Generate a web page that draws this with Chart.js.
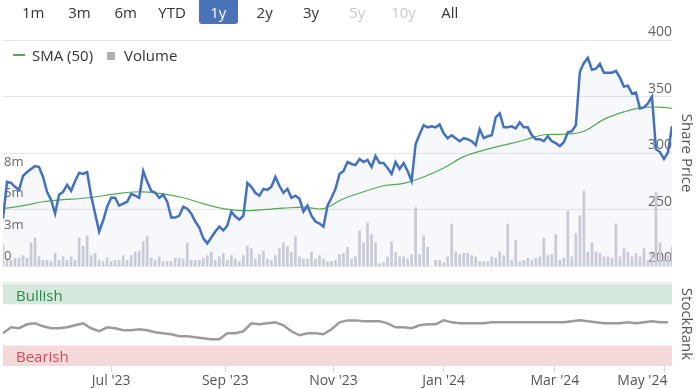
<!DOCTYPE html>
<html>
<head>
<meta charset="utf-8">
<title>Share Price / StockRank</title>
<script src="https://cdn.jsdelivr.net/npm/chart.js@4.4.1/dist/chart.umd.min.js"></script>
<style>
  body { margin: 0; background: #fff; font-family: 'Open Sans', sans-serif; }
  #page { position: relative; width: 696px; height: 389px; overflow: hidden; }
  .pane { position: absolute; left: 0; width: 696px; }
  #pricePane { top: 0; height: 275px; }
  #rankPane { top: 275px; height: 114px; }
  #ranges { position: absolute; left: 10px; top: 0; display: flex; z-index: 2; }
  .btn { width: 46.3px; height: 24px; line-height: 24px; text-align: center; font-size: 15px; color: #333; }
  .btn.off { color: #c9c9c9; }
  .btn.on span { display: inline-block; width: 39px; background: #4a72b8; color: #fff; border-radius: 0 0 3px 3px; }
  #legend { position: absolute; left: 13px; top: 45px; height: 20px; display: flex; align-items: center; font-size: 15px; color: #333; z-index: 2; }
  #legend .ln { width: 12px; height: 2px; background: #52ad4c; margin-right: 7px; }
  #legend .sq { width: 8px; height: 8px; background: #aeb0b8; margin: 2px 9px 0 14px; }
</style>
</head>
<body>
<div id="page">
  <div id="ranges"></div>
  <div id="legend"><i class="ln"></i><span>SMA (50)</span><i class="sq"></i><span>Volume</span></div>
  <div class="pane" id="pricePane"><canvas id="priceChart"></canvas></div>
  <div class="pane" id="rankPane"><canvas id="rankChart"></canvas></div>
</div>
<script>
// range selector
const rangeButtons = ['1m', '3m', '6m', 'YTD', '1y', '2y', '3y', '5y', '10y', 'All'];
const rangeSelected = '1y';
const rangeDisabled = ['5y', '10y'];

// share price, one sample every ~2 trading days (May '23 -> May '24)
const priceValues = [
  242.1, 274.6, 273.7, 270.2, 267.5, 279.8, 283.3, 286.0, 288.6, 287.7,
  278.9, 265.8, 258.8, 246.5, 263.2, 265.8, 271.9, 266.7, 275.4, 282.5,
  281.6, 283.3, 262.3, 246.5, 230.7, 240.4, 252.6, 260.5, 260.5, 253.5,
  255.3, 257.0, 264.0, 262.3, 260.5, 284.2, 274.6, 266.7, 264.9, 260.5,
  263.2, 257.0, 243.0, 243.0, 244.7, 252.6, 250.9, 246.5, 239.5, 234.2,
  224.6, 220.2, 225.4, 230.7, 235.1, 231.6, 236.0, 248.2, 243.9, 241.2,
  244.7, 273.7, 270.2, 264.9, 262.3, 268.4, 267.5, 270.2, 278.9, 271.1,
  264.9, 268.4, 260.5, 262.3, 259.6, 248.2, 253.5, 244.7, 239.5, 237.7,
  235.1, 253.5, 260.5, 268.4, 281.6, 284.2, 292.1, 290.4, 289.5, 294.7,
  292.1, 293.9, 287.7, 297.4, 291.2, 291.2, 286.8, 281.6, 292.1, 286.0,
  291.2, 284.2, 275.4, 307.9, 316.7, 324.6, 322.8, 323.7, 322.8, 325.4,
  317.5, 313.2, 315.8, 313.2, 310.5, 313.2, 312.3, 310.5, 307.0, 321.1,
  313.2, 314.9, 315.8, 331.6, 335.1, 322.8, 322.8, 323.7, 321.9, 327.2,
  322.8, 322.8, 315.8, 312.3, 312.3, 310.5, 314.9, 310.5, 308.8, 306.1,
  309.6, 318.4, 319.3, 324.6, 371.9, 379.8, 384.2, 373.7, 374.6, 378.9,
  371.1, 371.1, 371.1, 372.8, 366.7, 358.8, 359.6, 352.6, 353.5, 339.5,
  340.4, 343.9, 350.0, 303.5, 300.9, 294.7, 300.9, 323.7
];

// 50 day moving average, at every 5th sample
const smaIndex = [0, 5, 10, 15, 20, 25, 30, 35, 40, 45, 50, 55, 60, 65, 70, 75, 80, 85,
  90, 95, 100, 105, 110, 115, 120, 125, 130, 135, 140, 145, 150, 155, 160, 165, 167];
const smaValues = [250.9, 253.5, 257.0, 258.8, 260.1, 262.3, 264.9, 265.8, 264.0, 260.5,
  255.3, 250.9, 249.1, 250.0, 251.3, 252.2, 250.9, 259.6, 265.8, 271.1,
  273.2, 278.9, 286.8, 296.9, 302.6, 307.0, 311.4, 316.2, 316.7, 319.3,
  329.8, 336.4, 340.4, 340.4, 339.5];

// volume in millions, same sampling as price
const volumeValues = [
  1.8, 0.5, 0.5, 0.7, 0.7, 0.9, 0.7, 2.0, 2.4, 0.8,
  0.5, 0.5, 0.4, 1.1, 0.5, 0.8, 0.5, 0.8, 0.5, 2.4,
  1.7, 2.6, 0.9, 1.1, 0.5, 0.4, 0.7, 0.4, 0.5, 0.5,
  0.9, 0.5, 0.9, 1.2, 1.3, 2.1, 2.5, 0.7, 0.5, 0.8,
  0.4, 0.4, 0.4, 0.7, 0.7, 0.6, 2.0, 0.5, 0.5, 0.5,
  0.7, 0.9, 1.2, 0.5, 0.8, 1.1, 0.5, 0.9, 0.6, 0.4,
  0.9, 1.7, 1.5, 0.6, 1.0, 1.3, 0.6, 0.5, 0.9, 1.5,
  2.0, 1.7, 1.2, 2.5, 0.8, 0.6, 0.6, 1.2, 0.6, 0.9,
  0.6, 0.4, 0.4, 0.5, 1.0, 1.1, 1.6, 0.6, 0.8, 3.0,
  2.0, 3.7, 2.7, 2.0, 0.2, 0.3, 0.8, 2.1, 1.2, 0.8,
  0.8, 0.6, 1.0, 5.0, 1.0, 2.6, 1.6, 0.0, 0.5, 0.5,
  0.3, 0.8, 3.6, 1.2, 1.0, 1.1, 1.1, 0.9, 0.8, 0.4,
  0.4, 0.4, 0.8, 0.7, 1.2, 0.9, 3.6, 0.5, 2.2, 0.4,
  0.5, 0.7, 0.5, 0.7, 0.8, 2.4, 0.9, 1.0, 2.7, 0.5,
  0.7, 4.7, 0.8, 2.8, 4.3, 6.4, 1.2, 2.0, 1.2, 1.1,
  0.8, 0.8, 0.7, 3.6, 0.8, 1.5, 1.2, 0.8, 1.1, 0.8,
  1.5, 0.5, 1.1, 6.3, 2.0, 0.7, 0.9, 1.6
];

// StockRank, every 2nd sample
const rankValues = [
  39.8, 47.0, 45.8, 50.6, 51.8, 48.2, 45.8, 45.8, 47.0, 49.4,
  51.8, 45.8, 42.2, 47.0, 45.8, 43.4, 43.4, 44.6, 43.4, 41.0,
  39.8, 38.6, 36.1, 36.1, 34.9, 33.7, 32.5, 32.5, 39.8, 39.8,
  42.2, 51.8, 50.6, 51.8, 53.0, 49.4, 42.2, 37.3, 39.8, 39.8,
  38.6, 44.6, 53.0, 55.4, 55.4, 54.2, 54.2, 54.2, 51.8, 47.0,
  47.0, 45.8, 49.4, 50.6, 50.6, 55.4, 53.0, 51.8, 51.8, 51.8,
  51.8, 53.0, 53.0, 53.0, 53.0, 53.0, 53.0, 53.0, 53.0, 53.0,
  53.0, 54.2, 55.4, 54.2, 53.0, 51.8, 51.8, 51.8, 53.0, 51.8,
  53.0, 54.2, 53.0, 53.0
];

const bullishBand = [75, 100];
const bearishBand = [0, 25];
const bandLabels = ['Bullish', 'Bearish'];

// month starts on the sample axis; the last label is pulled in to fit
const monthTicks = [27, 55.5, 82.5, 110, 137.75, 165.25];
const monthLabelPos = [27, 55.5, 82.5, 110, 137.75, 159.6];
const monthLabels = ["Jul '23", "Sep '23", "Nov '23", "Jan '24", "Mar '24", "May '24"];
const priceTicks = [200, 250, 300, 350, 400];
const volumeTicks = [0, 8 / 3, 16 / 3, 8];

Chart.defaults.font.family = "'Open Sans', sans-serif";

const lastIdx = priceValues.length - 1;

// range buttons
const ranges = document.getElementById('ranges');
rangeButtons.forEach(r => {
  const b = document.createElement('div');
  b.className = 'btn' + (r === rangeSelected ? ' on' : '') + (rangeDisabled.includes(r) ? ' off' : '');
  b.innerHTML = `<span>${r}</span>`;
  ranges.appendChild(b);
});

new Chart(document.getElementById('priceChart'), {
  type: 'line',
  data: {
    datasets: [
      {
        label: 'Share Price',
        data: priceValues.map((v, i) => ({ x: i, y: v })),
        yAxisID: 'yPrice',
        borderColor: '#4471bd',
        borderWidth: 2.5,
        backgroundColor: 'rgba(69,114,196,0.05)',
        fill: 'start',
        pointRadius: 0,
        tension: 0,
        order: 0
      },
      {
        label: 'SMA (50)',
        data: smaIndex.map((x, k) => ({ x, y: smaValues[k] })),
        yAxisID: 'yPrice',
        borderColor: '#52ad4c',
        borderWidth: 1.2,
        pointRadius: 0,
        tension: 0.4,
        fill: false,
        order: 1
      },
      {
        type: 'bar',
        label: 'Volume',
        data: volumeValues.map((v, i) => ({ x: i, y: v })),
        yAxisID: 'yVol',
        backgroundColor: '#cfd0d6',
        barThickness: 2,
        order: 2
      }
    ]
  },
  options: {
    responsive: true,
    maintainAspectRatio: false,
    animation: false,
    layout: { padding: { left: 3, top: 40, right: 0, bottom: 7 } },
    plugins: { legend: { display: false }, tooltip: { enabled: false } },
    scales: {
      x: { type: 'linear', min: 0, max: lastIdx, offset: false, display: false },
      yPrice: {
        position: 'right',
        min: 200,
        max: 400,
        afterFit: s => { s.width = 24; },
        afterBuildTicks: s => { s.ticks = priceTicks.map(v => ({ value: v })); },
        border: { display: false },
        grid: { color: '#e6e6e6', drawTicks: false },
        ticks: { mirror: true, padding: 0, labelOffset: -8, color: '#666', font: { size: 14 } },
        title: { display: true, text: 'Share Price', color: '#555', font: { size: 15 }, padding: { top: 1, bottom: 0 } }
      },
      yVol: {
        position: 'left',
        min: 0,
        max: 19.3,
        afterFit: s => { s.width = 0; },
        afterBuildTicks: s => { s.ticks = volumeTicks.map(v => ({ value: v })); },
        border: { display: false },
        grid: { display: false },
        ticks: {
          mirror: true, padding: 1, labelOffset: -10, color: '#666', font: { size: 13 },
          callback: v => v === 0 ? '0' : Math.round(v) + 'm'
        }
      }
    }
  }
});

// writes Bullish / Bearish inside their bands
const bandText = {
  id: 'bandText',
  afterDatasetsDraw(chart) {
    const { ctx, chartArea, scales } = chart;
    const y = scales.yRank;
    ctx.save();
    ctx.font = "15px 'Open Sans', sans-serif";
    ctx.textBaseline = 'middle';
    ctx.fillStyle = '#2f8554';
    ctx.fillText(bandLabels[0], chartArea.left + 13, y.getPixelForValue((bullishBand[0] + bullishBand[1]) / 2) + 3);
    ctx.fillStyle = '#cf4a5b';
    ctx.fillText(bandLabels[1], chartArea.left + 13, y.getPixelForValue((bearishBand[0] + bearishBand[1]) / 2) + 2);
    ctx.restore();
  }
};

new Chart(document.getElementById('rankChart'), {
  type: 'line',
  data: {
    datasets: [
      {
        label: 'Bullish',
        data: [{ x: 0, y: bullishBand[1] }, { x: lastIdx, y: bullishBand[1] }],
        yAxisID: 'yRank',
        borderColor: 'rgba(0,0,0,0)',
        borderWidth: 0,
        pointRadius: 0,
        backgroundColor: '#d4e8db',
        fill: { value: bullishBand[0] }
      },
      {
        label: 'Bearish',
        data: [{ x: 0, y: bearishBand[1] }, { x: lastIdx, y: bearishBand[1] }],
        yAxisID: 'yRank',
        borderColor: 'rgba(0,0,0,0)',
        borderWidth: 0,
        pointRadius: 0,
        backgroundColor: '#f5d8da',
        fill: { value: bearishBand[0] }
      },
      {
        label: 'StockRank',
        data: rankValues.map((v, k) => ({ x: k * 2, y: v })),
        yAxisID: 'yRank',
        borderColor: '#9b9b9b',
        borderWidth: 2.5,
        pointRadius: 0,
        tension: 0,
        fill: false
      }
    ]
  },
  options: {
    responsive: true,
    maintainAspectRatio: false,
    animation: false,
    layout: { padding: { left: 3, top: 7, right: 0, bottom: 0 } },
    plugins: { legend: { display: false }, tooltip: { enabled: false } },
    scales: {
      // tick marks at month starts
      x: {
        type: 'linear', min: 0, max: lastIdx, offset: false, weight: 0,
        afterFit: s => { s.height = 6; },
        afterBuildTicks: s => { s.ticks = monthTicks.map(v => ({ value: v })); },
        border: { display: false },
        grid: { drawOnChartArea: false, drawTicks: true, tickLength: 6, color: '#ccd6eb' },
        ticks: { display: false }
      },
      // month labels
      xLab: {
        type: 'linear', position: 'bottom', min: 0, max: lastIdx, offset: false, weight: 1,
        afterFit: s => { s.height = 17; },
        afterBuildTicks: s => { s.ticks = monthLabelPos.map(v => ({ value: v })); },
        border: { display: false },
        grid: { display: false, drawTicks: false },
        ticks: {
          autoSkip: false, maxRotation: 0, padding: 1, color: '#555', font: { size: 14 },
          callback: (v, i) => monthLabels[i]
        }
      },
      yRank: {
        position: 'right',
        min: 0,
        max: 102,
        afterFit: s => { s.width = 24; },
        afterBuildTicks: s => { s.ticks = [{ value: 0 }, { value: 102 }]; },
        border: { display: false },
        grid: {
          drawTicks: false,
          color: c => (c.tick && c.tick.value === 102) ? '#e6e6e6' : 'rgba(0,0,0,0)'
        },
        ticks: {
          mirror: true, padding: -3, labelOffset: -8, color: '#666', font: { size: 14 },
          callback: v => v === 0 ? '0' : ''
        },
        title: { display: true, text: 'StockRank', color: '#555', font: { size: 15 }, padding: { top: 1, bottom: 0 } }
      }
    }
  },
  plugins: [bandText]
});
</script>
</body>
</html>
